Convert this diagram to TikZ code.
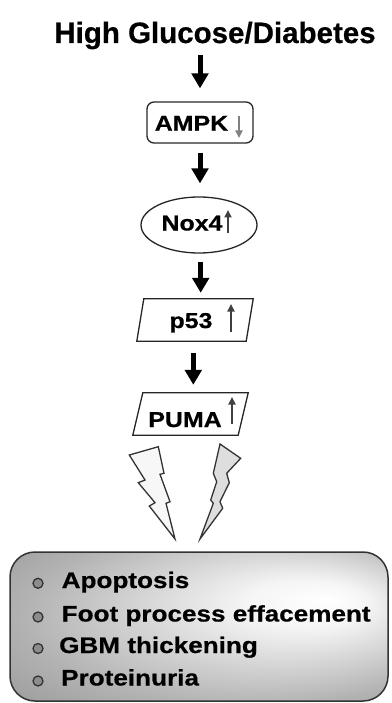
\documentclass[tikz,border=0pt]{standalone}
\usepackage{fontspec}
\setmainfont{Liberation Sans}[BoldFeatures={FakeBold=0.6}]
\newfontfamily\widefont{Liberation Sans}[FakeStretch=1.16,BoldFeatures={FakeBold=0.6}]
\usetikzlibrary{arrows.meta,shapes.geometric}
\pgfdeclareradialshading{boxshade}{\pgfpoint{17bp}{9bp}}{%
  color(0bp)=(white); color(8bp)=(white!96!black); color(30bp)=(white!70!black);
  color(50bp)=(white!52!black)}
\begin{document}
\begin{tikzpicture}[x=1pt,y=-1pt,
  bigarrow/.style={line width=5pt,-{Triangle[width=16.5pt,length=15pt]}},
  smallarrow/.style={line width=1.9pt,-{Triangle[width=7pt,length=7.5pt]}},
  lbl/.style={font=\widefont\bfseries\fontsize{21.5}{22}\selectfont,inner sep=0pt,anchor=base},
  itemtxt/.style={font=\widefont\bfseries\fontsize{22.5}{23}\selectfont,inner sep=0pt,anchor=base west},
  titletxt/.style={font=\bfseries\fontsize{29.5}{30}\selectfont,inner sep=0pt,anchor=base},
  shapeline/.style={draw=black!85,line width=1.3pt},
  boltline/.style={draw=black!80,line width=1.3pt,line join=miter},
  bulletdot/.style={circle,draw=black!80,fill=black!45,line width=1.3pt,inner sep=0pt,minimum size=10pt}
]
\useasboundingbox (0,0) rectangle (391,703);

% title
\node[titletxt] (title) at (215,43) {High Glucose/Diabetes};

% AMPK
\node[shapeline,rounded corners=7pt,minimum width=106pt,minimum height=41pt,inner sep=0pt] (ampk) at (200,122.5) {};
\node[lbl] (ampkt) at (191.5,130.7) {AMPK};
\draw[smallarrow,draw=black!50] (239,116) -- (239,138);

% Nox4
\node[shapeline,ellipse,minimum width=116pt,minimum height=56pt,inner sep=0pt] (nox) at (199,225) {};
\node[lbl] (noxt) at (192,230.5) {Nox4};
\draw[smallarrow,draw=black!75] (228,233) -- (228,210);

% p53
\node[minimum width=116pt,minimum height=42pt,inner sep=0pt] (p53) at (195,320) {};
\draw[shapeline] ([xshift=7pt]p53.north west) -- (p53.north east) -- ([xshift=-7pt]p53.south east) -- (p53.south west) -- cycle;
\node[lbl] (p53t) at (191,328) {p53};
\draw[smallarrow,draw=black!75] (231,332) -- (231,304);

% PUMA
\node[minimum width=115pt,minimum height=42pt,inner sep=0pt] (puma) at (190.5,414) {};
\draw[shapeline] ([xshift=10pt]puma.north west) -- (puma.north east) -- ([xshift=-10pt]puma.south east) -- (puma.south west) -- cycle;
\node[lbl] (pumat) at (185,427) {PUMA};
\draw[smallarrow,draw=black!75] (232,424) -- (232,397);

% main arrows
\draw[bigarrow,shorten <=5.5pt,shorten >=13pt] (title.south -| ampk.north) -- (ampk.north);
\draw[bigarrow,shorten <=9pt,shorten >=13pt] (ampk.south) -- (ampk.south |- nox.north);
\draw[bigarrow,shorten <=8pt,shorten >=6pt] ([xshift=1.7pt]nox.south) -- ([xshift=1.7pt]nox.south |- p53.north);
\draw[bigarrow,shorten <=12pt,shorten >=8pt] ([xshift=-1.7pt]p53.south) -- ([xshift=-1.7pt]p53.south |- puma.north);

% lightning bolts
\draw[boltline,fill=black!3] (129.3,455) -- (158.3,446.7) -- (164,473.3) -- (160,474.3) -- (170,501.7) -- (166,503.3) -- (175,539) -- (149.3,506) -- (155,502.7) -- (138.3,482.7) -- (145,480) -- cycle;
\draw[boltline,fill=black!13] (220,444) -- (240.7,458.3) -- (226.7,473.3) -- (229.3,482.7) -- (220,501.7) -- (222.7,508.3) -- (200,539) -- (213.3,503.3) -- (210.7,500) -- (216.7,481.7) -- (213.3,473.3) -- cycle;

% outcome box
\shadedraw[shading=boxshade,draw=black!80,line width=1.5pt,rounded corners=25pt] (10,552) rectangle (388,701);
\node[bulletdot] (b1) at (38,583.3) {};
\node[bulletdot] (b2) at (38,617) {};
\node[bulletdot] (b3) at (38,648.5) {};
\node[bulletdot] (b4) at (38,681) {};
\node[itemtxt] (i1) at (61.5,588) {Apoptosis};
\node[itemtxt] (i2) at (61.5,621.5) {Foot process effacement};
\node[itemtxt] (i3) at (59,653) {GBM thickening};
\node[itemtxt] (i4) at (61,685.5) {Proteinuria};
\end{tikzpicture}
\end{document}
